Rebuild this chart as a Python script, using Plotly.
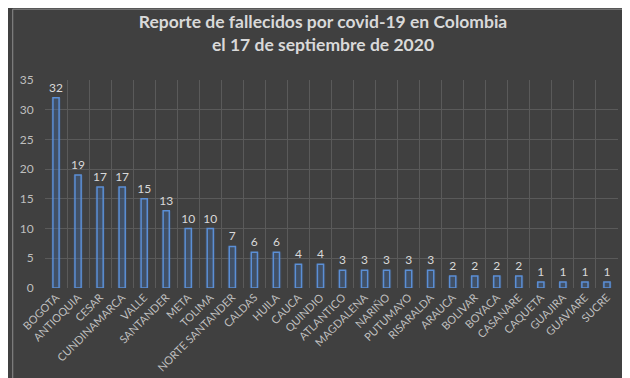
import plotly.graph_objects as go

departamentos = ["BOGOTA", "ANTIOQUIA", "CESAR", "CUNDINAMARCA", "VALLE", "SANTANDER", "META",
                 "TOLIMA", "NORTE SANTANDER", "CALDAS", "HUILA", "CAUCA", "QUINDIO", "ATLANTICO",
                 "MAGDALENA", "NARIÑO", "PUTUMAYO", "RISARALDA", "ARAUCA", "BOLIVAR", "BOYACA",
                 "CASANARE", "CAQUETA", "GUAJIRA", "GUAVIARE", "SUCRE"]
fallecidos = [32, 19, 17, 17, 15, 13, 10, 10, 7, 6, 6, 4, 4, 3, 3, 3, 3, 3, 2, 2, 2, 2, 1, 1, 1, 1]

fig = go.Figure()
# glow
fig.add_trace(go.Bar(x=departamentos, y=fallecidos, width=0.45,
                     marker=dict(color="rgba(70,120,200,0.14)", line=dict(width=0)),
                     hoverinfo="skip", showlegend=False))
fig.add_trace(go.Bar(x=departamentos, y=fallecidos, width=0.28,
                     marker=dict(color="rgba(70,110,170,0.22)",
                                 line=dict(color="#5b8fd6", width=1.5)),
                     text=fallecidos, textposition="outside", constraintext="none",
                     textfont=dict(color="#d9d9d9", size=12, family="Lato"),
                     cliponaxis=False, showlegend=False))

fig.update_layout(
    width=630, height=378,
    paper_bgcolor="#404040", plot_bgcolor="#404040",
    barmode="overlay",
    margin=dict(l=33, r=20, t=72, b=96),
    title=dict(text="Reporte de fallecidos por covid-19 en Colombia<br>el 17 de septiembre de 2020",
               x=0.5, xanchor="center", y=0.946, yanchor="top",
               font=dict(family="Lato", size=17.5, color="#d9d9d9", weight="bold")),
    font=dict(family="Lato", color="#bfbfbf"),
    xaxis=dict(tickson="boundaries", showgrid=True, gridcolor="#5a5a5a", gridwidth=1,
               tickangle=-45, tickfont=dict(size=11, color="#bfbfbf"),
               ticks="", showline=False, zeroline=False),
    yaxis=dict(range=[0, 35], dtick=5, showgrid=True, gridcolor="#5a5a5a", gridwidth=1,
               tickfont=dict(size=12, color="#bfbfbf"), zeroline=False,
               ticks="outside", ticklen=8, tickcolor="rgba(0,0,0,0)"),
    shapes=[dict(type="rect", xref="paper", yref="paper",
                 x0=-32.5/577, x1=1+19.5/577, y0=-95.5/210, y1=1+71.5/210,
                 line=dict(color="#8c8c8c", width=1))],
)

fig.write_html("out.html")
